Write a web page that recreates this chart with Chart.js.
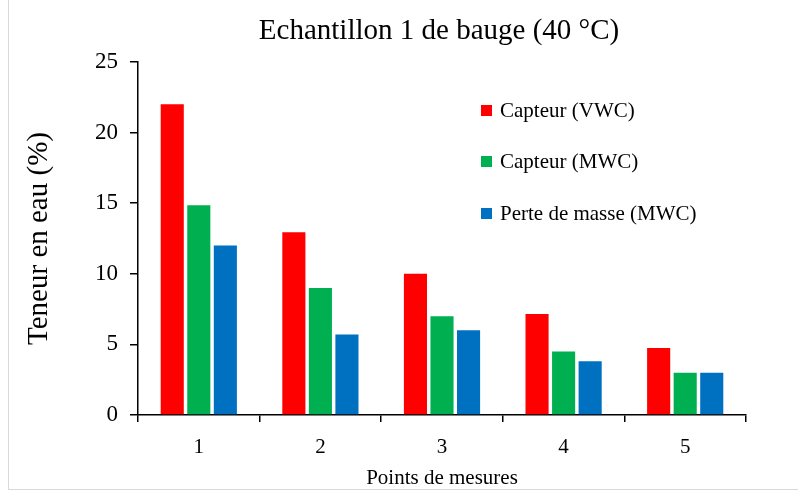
<!DOCTYPE html>
<html>
<head>
<meta charset="utf-8">
<script src="https://cdn.jsdelivr.net/npm/chart.js@4.4.1/dist/chart.umd.min.js"></script>
<style>
  html, body { margin: 0; padding: 0; background: #fff; }
  #wrap { position: relative; width: 798px; height: 492px; }
  #frame { position: absolute; left: 8px; top: -1px; width: 790px; height: 491px; border-left: 1px solid #d9d9d9; border-bottom: 1px solid #d9d9d9; box-sizing: border-box; pointer-events: none; }
</style>
</head>
<body>
<div id="wrap">
  <canvas id="chart" width="798" height="492"></canvas>
  <div id="frame"></div>
</div>
<script>
// Data
const points = ['1', '2', '3', '4', '5'];
const capteurVWC = [22.0, 12.95, 10.0, 7.15, 4.75];
const capteurMWC = [14.85, 9.0, 7.0, 4.5, 3.0];
const perteMasse = [12.0, 5.7, 6.0, 3.8, 3.0];
const seriesNames = ['Capteur (VWC)', 'Capteur (MWC)', 'Perte de masse (MWC)'];
const seriesColors = ['#FF0000', '#00B050', '#0070C0'];

const serif = "'Liberation Serif', 'Times New Roman', serif";

// title + legend drawn by hand so they sit where they do in the figure
const decorations = {
    id: 'decorations',
    afterDraw(chart) {
        const ctx = chart.ctx;
        ctx.save();
        ctx.fillStyle = '#000';
        ctx.font = '29px ' + serif;
        ctx.textAlign = 'center';
        ctx.textBaseline = 'middle';
        ctx.fillText('Echantillon 1 de bauge (40 °C)', 439, 31);

        const rows = [110, 161, 213];
        ctx.font = '21px ' + serif;
        ctx.textAlign = 'left';
        chart.data.datasets.forEach((ds, i) => {
            ctx.fillStyle = ds.backgroundColor;
            ctx.fillRect(481, rows[i] - 5, 11, 11);
            ctx.fillStyle = '#000';
            ctx.fillText(ds.label, 500, rows[i] + 1);
        });
        ctx.restore();
    }
};

new Chart(document.getElementById('chart').getContext('2d'), {
    type: 'bar',
    data: {
        labels: points,
        datasets: [
            { label: seriesNames[0], data: capteurVWC, backgroundColor: seriesColors[0] },
            { label: seriesNames[1], data: capteurMWC, backgroundColor: seriesColors[1] },
            { label: seriesNames[2], data: perteMasse, backgroundColor: seriesColors[2] }
        ]
    },
    options: {
        responsive: false,
        animation: false,
        layout: { padding: { top: 62, right: 52, left: 0, bottom: 0 } },
        datasets: {
            bar: { categoryPercentage: 0.655, barPercentage: 0.87 }
        },
        plugins: {
            legend: { display: false },
            title: { display: false },
            tooltip: { enabled: false }
        },
        scales: {
            x: {
                grid: { display: true, drawOnChartArea: false, offset: true, tickLength: 7, color: '#000', lineWidth: 1.5 },
                border: { display: true, color: '#000', width: 1.5 },
                ticks: { color: '#000', font: { family: serif, size: 21 }, padding: 13 },
                title: { display: true, text: 'Points de mesures', color: '#000', font: { family: serif, size: 21 }, padding: { top: 0, bottom: 1 } },
                afterFit(scale) { scale.height = 77; }
            },
            y: {
                min: 0,
                max: 25,
                grid: { display: true, drawOnChartArea: false, tickLength: 8, color: '#000', lineWidth: 1.5 },
                border: { display: true, color: '#000', width: 1.5 },
                ticks: { stepSize: 5, color: '#000', font: { family: serif, size: 23 }, padding: 12 },
                title: { display: true, text: 'Teneur en eau (%)', color: '#000', font: { family: serif, size: 29 }, padding: { top: 22 } },
                afterFit(scale) { scale.width = 138; }
            }
        }
    },
    plugins: [decorations]
});
</script>
</body>
</html>
